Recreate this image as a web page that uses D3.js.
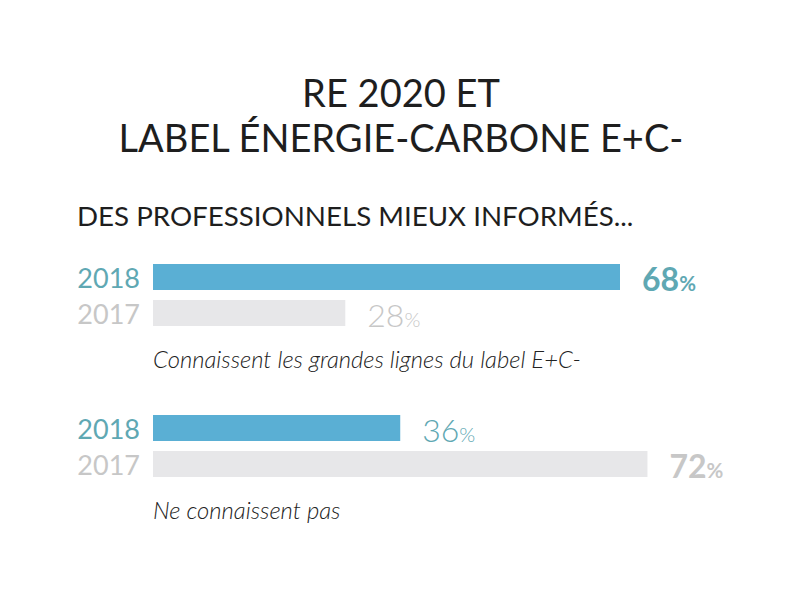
<!DOCTYPE html>
<html><head><meta charset="utf-8">
<script src="https://cdn.jsdelivr.net/npm/d3@7"></script>
<style>body{margin:0;background:#fff}svg{display:block}text{font-family:Lato,"Open Sans",sans-serif}</style>
</head><body><svg id="c" width="800" height="600"></svg>
<script>
const titleLines = ["RE 2020 ET", "LABEL ÉNERGIE-CARBONE E+C-"];
const subtitle = "DES PROFESSIONNELS MIEUX INFORMÉS...";
const groups = ["Connaissent les grandes lignes du label E+C-", "Ne connaissent pas"];
const years = ["2018", "2017"];
const values2018 = [68, 36];
const values2017 = [28, 72];

const svg = d3.select("#c");
const colors = {bar2018:"#5aafd4", bar2017:"#e7e7e9", lab2018:"#5fa8b3", lab2017:"#c7c7c7"};

svg.selectAll("text.title").data(titleLines).join("text")
  .attr("x", 401).attr("y", (d,i)=>107+i*45).attr("text-anchor","middle")
  .attr("font-size", 38).attr("fill","#1e1e1e").text(d=>d);
svg.append("text").attr("x",77).attr("y",226).attr("font-size",27.7).attr("fill","#1e1e1e").text(subtitle);

const x = d3.scaleLinear().domain([0,68]).range([153,620]);
const gy = d3.scaleOrdinal().domain(groups).range([264, 415]);
const by = d3.scaleBand().domain(years).range([0,62]).paddingInner(0.278);

const data = [];
groups.forEach((g,i)=>{
  data.push({g, year:"2018", v:values2018[i]});
  data.push({g, year:"2017", v:values2017[i]});
});
const maxByGroup = groups.map((g,i)=>Math.max(values2018[i],values2017[i]));

const grp = svg.selectAll("g.grp").data(groups).join("g").attr("class","grp")
  .attr("transform", d=>`translate(0,${gy(d)})`);

grp.each(function(g,gi){
  const sel = d3.select(this);
  const rows = data.filter(d=>d.g===g);
  sel.selectAll("rect").data(rows).join("rect")
    .attr("x", x(0)).attr("y", d=>by(d.year)).attr("height", by.bandwidth())
    .attr("width", d=>x(d.v)-x(0))
    .attr("fill", d=>d.year==="2018"?colors.bar2018:colors.bar2017);
  sel.selectAll("text.yr").data(rows).join("text").attr("class","yr")
    .attr("x", 140).attr("y", d=>by(d.year)+by.bandwidth()-2).attr("text-anchor","end")
    .attr("font-size", 27).attr("fill", d=>d.year==="2018"?colors.lab2018:colors.lab2017)
    .text(d=>d.year);
  const vl = sel.selectAll("text.val").data(rows).join("text").attr("class","val")
    .attr("x", d=>x(d.v)+22).attr("y", d=>by(d.year)+by.bandwidth()+1)
    .attr("font-size", 32)
    .attr("font-weight", d=>d.v===maxByGroup[gi]?700:300)
    .attr("fill", d=>d.year==="2018"?colors.lab2018:colors.lab2017);
  vl.append("tspan").text(d=>d.v);
  vl.append("tspan").attr("font-size",20.5).text("%");
  sel.append("text").attr("x",153).attr("y",104).attr("font-size",23.8)
    .attr("font-style","italic").attr("font-weight",300).attr("fill","#222").text(g);
});
</script></body></html>
